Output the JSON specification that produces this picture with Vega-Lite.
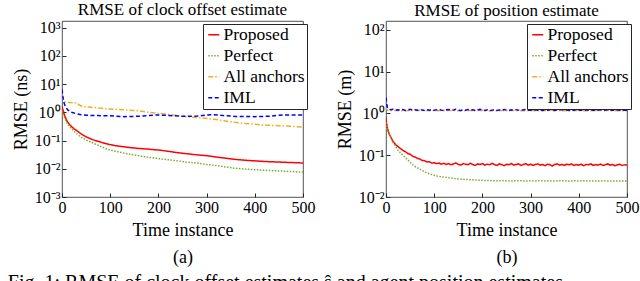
{
  "$schema": "https://vega.github.io/schema/vega-lite/v6.json",
  "background": "white",
  "padding": {"left": 7, "top": 0, "right": 0, "bottom": 0},
  "config": {
    "font": "Liberation Serif, Times New Roman, serif",
    "view": {"stroke": "#262626", "strokeWidth": 0.8},
    "axis": {"domain": false, "grid": false, "labelFlush": false, "labelOverlap": false, "labelFont": "Liberation Serif, Times New Roman, serif", "labelFontSize": 16, "labelColor": "#000", "titleFont": "Liberation Serif, Times New Roman, serif", "titleFontSize": 18, "titleFontWeight": "normal", "titleColor": "#000", "tickColor": "#262626", "tickSize": -4, "labelPadding": 6},
    "legend": {"orient": "none", "legendX": 141, "legendY": 3, "title": null, "strokeColor": "#262626", "fillColor": "white", "padding": 2, "labelFont": "Liberation Serif, Times New Roman, serif", "labelFontSize": 17.5, "labelColor": "#000", "symbolType": "stroke", "symbolSize": 121, "symbolStrokeWidth": 1.5, "rowPadding": 2, "labelOffset": 1, "cornerRadius": 0}
  },
  "title": {"text": "Fig. 1: RMSE of clock offset estimates ŝ and agent position estimates", "orient": "bottom", "anchor": "start", "fontSize": 20, "font": "Liberation Serif, Times New Roman, serif", "fontWeight": "normal", "color": "#000", "offset": 7, "limit": 600, "dx": -4},
  "resolve": {"scale": {"color": "independent", "strokeDash": "independent"}},
  "spacing": 19,
  "datasets": {
    "clock": [
      {"s":"Proposed","t":0,"v":1.6},{"s":"Proposed","t":2,"v":1.2},{"s":"Proposed","t":5,"v":0.8},{"s":"Proposed","t":10,"v":0.5},{"s":"Proposed","t":15,"v":0.38},{"s":"Proposed","t":20,"v":0.31},{"s":"Proposed","t":25,"v":0.26},{"s":"Proposed","t":31,"v":0.22},{"s":"Proposed","t":40,"v":0.17},{"s":"Proposed","t":52,"v":0.13},{"s":"Proposed","t":65,"v":0.105},{"s":"Proposed","t":80,"v":0.088},{"s":"Proposed","t":93,"v":0.076},{"s":"Proposed","t":110,"v":0.066},{"s":"Proposed","t":135,"v":0.058},{"s":"Proposed","t":155,"v":0.053},{"s":"Proposed","t":176,"v":0.05},{"s":"Proposed","t":200,"v":0.046},{"s":"Proposed","t":218,"v":0.042},{"s":"Proposed","t":240,"v":0.037},{"s":"Proposed","t":259,"v":0.034},{"s":"Proposed","t":280,"v":0.031},{"s":"Proposed","t":301,"v":0.029},{"s":"Proposed","t":320,"v":0.026},{"s":"Proposed","t":353,"v":0.022},{"s":"Proposed","t":380,"v":0.02},{"s":"Proposed","t":422,"v":0.018},{"s":"Proposed","t":460,"v":0.017},{"s":"Proposed","t":500,"v":0.016},
      {"s":"Perfect","t":0,"v":1.1},{"s":"Perfect","t":2,"v":0.85},{"s":"Perfect","t":5,"v":0.65},{"s":"Perfect","t":10,"v":0.44},{"s":"Perfect","t":15,"v":0.32},{"s":"Perfect","t":20,"v":0.26},{"s":"Perfect","t":25,"v":0.21},{"s":"Perfect","t":31,"v":0.17},{"s":"Perfect","t":40,"v":0.13},{"s":"Perfect","t":52,"v":0.1},{"s":"Perfect","t":65,"v":0.08},{"s":"Perfect","t":80,"v":0.062},{"s":"Perfect","t":93,"v":0.05},{"s":"Perfect","t":110,"v":0.042},{"s":"Perfect","t":135,"v":0.034},{"s":"Perfect","t":155,"v":0.03},{"s":"Perfect","t":176,"v":0.026},{"s":"Perfect","t":200,"v":0.023},{"s":"Perfect","t":218,"v":0.021},{"s":"Perfect","t":240,"v":0.019},{"s":"Perfect","t":259,"v":0.017},{"s":"Perfect","t":280,"v":0.016},{"s":"Perfect","t":301,"v":0.014},{"s":"Perfect","t":320,"v":0.013},{"s":"Perfect","t":353,"v":0.0107},{"s":"Perfect","t":380,"v":0.0097},{"s":"Perfect","t":422,"v":0.0088},{"s":"Perfect","t":460,"v":0.0082},{"s":"Perfect","t":500,"v":0.0076},
      {"s":"All anchors","t":0,"v":4},{"s":"All anchors","t":2,"v":3},{"s":"All anchors","t":4,"v":2.4},{"s":"All anchors","t":8,"v":2.25},{"s":"All anchors","t":15,"v":2.2},{"s":"All anchors","t":25,"v":2.15},{"s":"All anchors","t":31,"v":2.1},{"s":"All anchors","t":36,"v":1.8},{"s":"All anchors","t":42,"v":1.6},{"s":"All anchors","t":60,"v":1.5},{"s":"All anchors","t":80,"v":1.4},{"s":"All anchors","t":93,"v":1.3},{"s":"All anchors","t":120,"v":1.25},{"s":"All anchors","t":156,"v":1.14},{"s":"All anchors","t":180,"v":1.0},{"s":"All anchors","t":197,"v":0.92},{"s":"All anchors","t":220,"v":0.85},{"s":"All anchors","t":249,"v":0.72},{"s":"All anchors","t":297,"v":0.61},{"s":"All anchors","t":320,"v":0.55},{"s":"All anchors","t":353,"v":0.45},{"s":"All anchors","t":380,"v":0.4},{"s":"All anchors","t":422,"v":0.35},{"s":"All anchors","t":460,"v":0.33},{"s":"All anchors","t":500,"v":0.3},
      {"s":"IML","t":0,"v":6.5},{"s":"IML","t":2,"v":3.5},{"s":"IML","t":4,"v":2.2},{"s":"IML","t":7,"v":1.6},{"s":"IML","t":12,"v":1.2},{"s":"IML","t":20,"v":1.0},{"s":"IML","t":30,"v":0.88},{"s":"IML","t":40,"v":0.82},{"s":"IML","t":52,"v":0.78},{"s":"IML","t":75,"v":0.76},{"s":"IML","t":100,"v":0.75},{"s":"IML","t":130,"v":0.7},{"s":"IML","t":160,"v":0.72},{"s":"IML","t":180,"v":0.76},{"s":"IML","t":197,"v":0.8},{"s":"IML","t":220,"v":0.77},{"s":"IML","t":250,"v":0.72},{"s":"IML","t":280,"v":0.73},{"s":"IML","t":300,"v":0.8},{"s":"IML","t":315,"v":0.82},{"s":"IML","t":335,"v":0.76},{"s":"IML","t":360,"v":0.71},{"s":"IML","t":400,"v":0.7},{"s":"IML","t":430,"v":0.72},{"s":"IML","t":450,"v":0.79},{"s":"IML","t":500,"v":0.8}
    ],
    "pos": [
      {"s":"Proposed","t":0,"v":0.8},{"s":"Proposed","t":1,"v":0.6},{"s":"Proposed","t":2,"v":0.5},{"s":"Proposed","t":4,"v":0.4},{"s":"Proposed","t":6,"v":0.34},{"s":"Proposed","t":8,"v":0.3},{"s":"Proposed","t":10,"v":0.27},{"s":"Proposed","t":15,"v":0.21},{"s":"Proposed","t":20,"v":0.18},{"s":"Proposed","t":25,"v":0.16},{"s":"Proposed","t":30,"v":0.145},{"s":"Proposed","t":35,"v":0.13},{"s":"Proposed","t":40,"v":0.122},{"s":"Proposed","t":45,"v":0.11},{"s":"Proposed","t":50,"v":0.106},{"s":"Proposed","t":55,"v":0.095},{"s":"Proposed","t":60,"v":0.091},{"s":"Proposed","t":65,"v":0.084},{"s":"Proposed","t":70,"v":0.081},{"s":"Proposed","t":75,"v":0.075},{"s":"Proposed","t":80,"v":0.074},{"s":"Proposed","t":85,"v":0.069},{"s":"Proposed","t":90,"v":0.07},{"s":"Proposed","t":95,"v":0.065},
      {"s":"Proposed","t":100,"v":0.066},{"s":"Proposed","t":105,"v":0.063},{"s":"Proposed","t":110,"v":0.065},{"s":"Proposed","t":115,"v":0.061},{"s":"Proposed","t":120,"v":0.064},{"s":"Proposed","t":125,"v":0.06},{"s":"Proposed","t":130,"v":0.063},{"s":"Proposed","t":135,"v":0.059},{"s":"Proposed","t":140,"v":0.062},{"s":"Proposed","t":145,"v":0.065},{"s":"Proposed","t":150,"v":0.06},{"s":"Proposed","t":155,"v":0.058},{"s":"Proposed","t":160,"v":0.063},{"s":"Proposed","t":165,"v":0.061},{"s":"Proposed","t":170,"v":0.059},{"s":"Proposed","t":175,"v":0.064},{"s":"Proposed","t":180,"v":0.06},{"s":"Proposed","t":185,"v":0.057},{"s":"Proposed","t":190,"v":0.062},{"s":"Proposed","t":195,"v":0.06},{"s":"Proposed","t":200,"v":0.063},{"s":"Proposed","t":205,"v":0.058},{"s":"Proposed","t":210,"v":0.061},{"s":"Proposed","t":215,"v":0.059},{"s":"Proposed","t":220,"v":0.064},{"s":"Proposed","t":225,"v":0.06},{"s":"Proposed","t":230,"v":0.057},{"s":"Proposed","t":235,"v":0.062},{"s":"Proposed","t":240,"v":0.06},{"s":"Proposed","t":245,"v":0.056},{"s":"Proposed","t":250,"v":0.061},{"s":"Proposed","t":255,"v":0.059},{"s":"Proposed","t":260,"v":0.063},{"s":"Proposed","t":265,"v":0.058},{"s":"Proposed","t":270,"v":0.06},{"s":"Proposed","t":275,"v":0.062},{"s":"Proposed","t":280,"v":0.057},{"s":"Proposed","t":285,"v":0.06},{"s":"Proposed","t":290,"v":0.063},{"s":"Proposed","t":295,"v":0.058},{"s":"Proposed","t":300,"v":0.061},{"s":"Proposed","t":305,"v":0.057},{"s":"Proposed","t":310,"v":0.06},{"s":"Proposed","t":315,"v":0.062},{"s":"Proposed","t":320,"v":0.058},{"s":"Proposed","t":325,"v":0.06},{"s":"Proposed","t":330,"v":0.056},{"s":"Proposed","t":335,"v":0.061},{"s":"Proposed","t":340,"v":0.059},{"s":"Proposed","t":345,"v":0.055},{"s":"Proposed","t":350,"v":0.06},{"s":"Proposed","t":355,"v":0.062},{"s":"Proposed","t":360,"v":0.058},{"s":"Proposed","t":365,"v":0.06},{"s":"Proposed","t":370,"v":0.057},{"s":"Proposed","t":375,"v":0.061},{"s":"Proposed","t":380,"v":0.059},{"s":"Proposed","t":385,"v":0.062},{"s":"Proposed","t":390,"v":0.057},{"s":"Proposed","t":395,"v":0.06},{"s":"Proposed","t":400,"v":0.058},{"s":"Proposed","t":405,"v":0.061},{"s":"Proposed","t":410,"v":0.056},{"s":"Proposed","t":415,"v":0.06},{"s":"Proposed","t":420,"v":0.059},{"s":"Proposed","t":425,"v":0.062},{"s":"Proposed","t":430,"v":0.057},{"s":"Proposed","t":435,"v":0.06},{"s":"Proposed","t":440,"v":0.058},{"s":"Proposed","t":445,"v":0.061},{"s":"Proposed","t":450,"v":0.057},{"s":"Proposed","t":455,"v":0.059},{"s":"Proposed","t":460,"v":0.062},{"s":"Proposed","t":465,"v":0.058},{"s":"Proposed","t":470,"v":0.06},{"s":"Proposed","t":475,"v":0.056},{"s":"Proposed","t":480,"v":0.059},{"s":"Proposed","t":485,"v":0.061},{"s":"Proposed","t":490,"v":0.057},{"s":"Proposed","t":495,"v":0.059},{"s":"Proposed","t":500,"v":0.058},
      {"s":"Perfect","t":0,"v":0.62},{"s":"Perfect","t":1,"v":0.52},{"s":"Perfect","t":2,"v":0.46},{"s":"Perfect","t":4,"v":0.38},{"s":"Perfect","t":6,"v":0.33},{"s":"Perfect","t":8,"v":0.29},{"s":"Perfect","t":10,"v":0.26},{"s":"Perfect","t":15,"v":0.2},{"s":"Perfect","t":20,"v":0.16},{"s":"Perfect","t":25,"v":0.13},{"s":"Perfect","t":30,"v":0.115},{"s":"Perfect","t":35,"v":0.1},{"s":"Perfect","t":40,"v":0.088},{"s":"Perfect","t":48,"v":0.072},{"s":"Perfect","t":55,"v":0.06},{"s":"Perfect","t":62,"v":0.052},{"s":"Perfect","t":68,"v":0.048},{"s":"Perfect","t":75,"v":0.043},{"s":"Perfect","t":82,"v":0.039},{"s":"Perfect","t":90,"v":0.036},{"s":"Perfect","t":100,"v":0.033},{"s":"Perfect","t":110,"v":0.031},{"s":"Perfect","t":120,"v":0.03},{"s":"Perfect","t":131,"v":0.029},{"s":"Perfect","t":140,"v":0.028},{"s":"Perfect","t":150,"v":0.027},{"s":"Perfect","t":160,"v":0.0265},{"s":"Perfect","t":172,"v":0.026},{"s":"Perfect","t":185,"v":0.0255},{"s":"Perfect","t":200,"v":0.025},{"s":"Perfect","t":210,"v":0.0248},{"s":"Perfect","t":220,"v":0.0246},{"s":"Perfect","t":230,"v":0.0243},{"s":"Perfect","t":240,"v":0.0247},{"s":"Perfect","t":250,"v":0.0244},{"s":"Perfect","t":260,"v":0.0242},{"s":"Perfect","t":270,"v":0.0246},{"s":"Perfect","t":280,"v":0.0244},{"s":"Perfect","t":290,"v":0.0241},{"s":"Perfect","t":300,"v":0.0245},{"s":"Perfect","t":310,"v":0.0243},{"s":"Perfect","t":320,"v":0.0246},{"s":"Perfect","t":330,"v":0.0242},{"s":"Perfect","t":340,"v":0.0244},{"s":"Perfect","t":350,"v":0.0241},{"s":"Perfect","t":360,"v":0.0245},{"s":"Perfect","t":370,"v":0.0243},{"s":"Perfect","t":380,"v":0.024},{"s":"Perfect","t":390,"v":0.0244},{"s":"Perfect","t":400,"v":0.0242},{"s":"Perfect","t":410,"v":0.0245},{"s":"Perfect","t":420,"v":0.0241},{"s":"Perfect","t":430,"v":0.0243},{"s":"Perfect","t":440,"v":0.024},{"s":"Perfect","t":450,"v":0.0244},{"s":"Perfect","t":460,"v":0.0242},{"s":"Perfect","t":470,"v":0.0239},{"s":"Perfect","t":480,"v":0.0243},{"s":"Perfect","t":490,"v":0.0241},{"s":"Perfect","t":500,"v":0.024},
      {"s":"All anchors","t":0,"v":1.45},{"s":"All anchors","t":1,"v":1.3},{"s":"All anchors","t":3,"v":1.2},{"s":"All anchors","t":6,"v":1.18},{"s":"All anchors","t":20,"v":1.17},{"s":"All anchors","t":40,"v":1.16},{"s":"All anchors","t":60,"v":1.18},{"s":"All anchors","t":80,"v":1.17},{"s":"All anchors","t":100,"v":1.16},{"s":"All anchors","t":120,"v":1.18},{"s":"All anchors","t":140,"v":1.17},{"s":"All anchors","t":160,"v":1.16},{"s":"All anchors","t":180,"v":1.18},{"s":"All anchors","t":200,"v":1.17},{"s":"All anchors","t":220,"v":1.16},{"s":"All anchors","t":240,"v":1.17},{"s":"All anchors","t":260,"v":1.18},{"s":"All anchors","t":280,"v":1.16},{"s":"All anchors","t":300,"v":1.17},{"s":"All anchors","t":320,"v":1.16},{"s":"All anchors","t":340,"v":1.18},{"s":"All anchors","t":360,"v":1.17},{"s":"All anchors","t":380,"v":1.16},{"s":"All anchors","t":400,"v":1.17},{"s":"All anchors","t":420,"v":1.16},{"s":"All anchors","t":440,"v":1.18},{"s":"All anchors","t":460,"v":1.17},{"s":"All anchors","t":480,"v":1.16},{"s":"All anchors","t":500,"v":1.17},
      {"s":"IML","t":0,"v":2.4},{"s":"IML","t":1,"v":1.9},{"s":"IML","t":2,"v":1.55},{"s":"IML","t":3,"v":1.38},{"s":"IML","t":5,"v":1.28},{"s":"IML","t":10,"v":1.22},{"s":"IML","t":15,"v":1.25},{"s":"IML","t":20,"v":1.19},{"s":"IML","t":25,"v":1.23},{"s":"IML","t":30,"v":1.2},{"s":"IML","t":35,"v":1.24},{"s":"IML","t":40,"v":1.18},{"s":"IML","t":45,"v":1.22},{"s":"IML","t":50,"v":1.26},{"s":"IML","t":55,"v":1.2},{"s":"IML","t":60,"v":1.23},{"s":"IML","t":65,"v":1.19},{"s":"IML","t":70,"v":1.25},{"s":"IML","t":75,"v":1.21},{"s":"IML","t":80,"v":1.18},{"s":"IML","t":85,"v":1.23},{"s":"IML","t":90,"v":1.2},{"s":"IML","t":95,"v":1.24},{"s":"IML","t":100,"v":1.19},{"s":"IML","t":105,"v":1.22},{"s":"IML","t":110,"v":1.26},{"s":"IML","t":115,"v":1.2},{"s":"IML","t":120,"v":1.17},{"s":"IML","t":125,"v":1.22},{"s":"IML","t":130,"v":1.24},{"s":"IML","t":135,"v":1.19},{"s":"IML","t":140,"v":1.21},{"s":"IML","t":145,"v":1.25},{"s":"IML","t":150,"v":1.2},{"s":"IML","t":155,"v":1.18},{"s":"IML","t":160,"v":1.23},{"s":"IML","t":165,"v":1.2},{"s":"IML","t":170,"v":1.24},{"s":"IML","t":175,"v":1.19},{"s":"IML","t":180,"v":1.22},{"s":"IML","t":185,"v":1.17},{"s":"IML","t":190,"v":1.21},{"s":"IML","t":195,"v":1.25},{"s":"IML","t":200,"v":1.2},{"s":"IML","t":205,"v":1.18},{"s":"IML","t":210,"v":1.22},{"s":"IML","t":215,"v":1.16},{"s":"IML","t":220,"v":1.2},{"s":"IML","t":225,"v":1.23},{"s":"IML","t":230,"v":1.18},{"s":"IML","t":235,"v":1.21},{"s":"IML","t":240,"v":1.19},{"s":"IML","t":245,"v":1.24},{"s":"IML","t":250,"v":1.2},{"s":"IML","t":255,"v":1.17},{"s":"IML","t":260,"v":1.22},{"s":"IML","t":265,"v":1.19},{"s":"IML","t":270,"v":1.23},{"s":"IML","t":275,"v":1.2},{"s":"IML","t":280,"v":1.18},{"s":"IML","t":285,"v":1.22},{"s":"IML","t":290,"v":1.25},{"s":"IML","t":295,"v":1.19},{"s":"IML","t":300,"v":1.21},{"s":"IML","t":305,"v":1.17},{"s":"IML","t":310,"v":1.22},{"s":"IML","t":315,"v":1.2},{"s":"IML","t":320,"v":1.24},{"s":"IML","t":325,"v":1.18},{"s":"IML","t":330,"v":1.21},{"s":"IML","t":335,"v":1.19},{"s":"IML","t":340,"v":1.23},{"s":"IML","t":345,"v":1.2},{"s":"IML","t":350,"v":1.17},{"s":"IML","t":355,"v":1.22},{"s":"IML","t":360,"v":1.2},{"s":"IML","t":365,"v":1.24},{"s":"IML","t":370,"v":1.19},{"s":"IML","t":375,"v":1.21},{"s":"IML","t":380,"v":1.18},{"s":"IML","t":385,"v":1.22},{"s":"IML","t":390,"v":1.2},{"s":"IML","t":395,"v":1.25},{"s":"IML","t":400,"v":1.19},{"s":"IML","t":405,"v":1.21},{"s":"IML","t":410,"v":1.17},{"s":"IML","t":415,"v":1.22},{"s":"IML","t":420,"v":1.2},{"s":"IML","t":425,"v":1.23},{"s":"IML","t":430,"v":1.18},{"s":"IML","t":435,"v":1.21},{"s":"IML","t":440,"v":1.19},{"s":"IML","t":445,"v":1.22},{"s":"IML","t":450,"v":1.17},{"s":"IML","t":455,"v":1.2},{"s":"IML","t":460,"v":1.23},{"s":"IML","t":465,"v":1.19},{"s":"IML","t":470,"v":1.21},{"s":"IML","t":475,"v":1.18},{"s":"IML","t":480,"v":1.22},{"s":"IML","t":485,"v":1.19},{"s":"IML","t":490,"v":1.16},{"s":"IML","t":495,"v":1.2},{"s":"IML","t":500,"v":1.18}
    ]
  },
  "hconcat": [
    {
      "title": {"text": "RMSE of clock offset estimate", "fontSize": 17, "fontWeight": "normal", "font": "Liberation Serif, Times New Roman, serif", "color": "#000", "offset": 1},
      "width": 241, "height": 176,
      "data": {"name": "clock"},
      "mark": {"type": "line", "strokeWidth": 1.5, "clip": true},
      "encoding": {
        "x": {"field": "t", "type": "quantitative", "scale": {"domain": [0, 500], "nice": false}, "axis": {"values": [0, 100, 200, 300, 400, 500], "title": ["Time instance", "(a)"], "titleLineHeight": 27, "titlePadding": 6}},
        "y": {"field": "v", "type": "quantitative", "scale": {"type": "log", "domain": [0.001, 1700], "nice": false}, "axis": {"values": [0.001, 0.01, 0.1, 1, 10, 100, 1000], "labelExpr": "datum.value < 0.005 ? '10⁻³' : datum.value < 0.05 ? '10⁻²' : datum.value < 0.5 ? '10⁻¹' : datum.value < 5 ? '10⁰' : datum.value < 50 ? '10¹' : datum.value < 500 ? '10²' : '10³'", "title": "RMSE (ns)", "titlePadding": 4}},
        "color": {"field": "s", "type": "nominal", "scale": {"domain": ["Proposed", "Perfect", "All anchors", "IML"], "range": ["#ff0000", "#77ac30", "#edb120", "#0000ff"]}, "legend": {"orient": "none", "legendX": 141, "legendY": 3}},
        "strokeDash": {"field": "s", "type": "nominal", "scale": {"domain": ["Proposed", "Perfect", "All anchors", "IML"], "range": [[1, 0], [1.5, 1.5], [5, 2, 1.5, 2], [4, 2.5]]}, "legend": {"orient": "none", "legendX": 141, "legendY": 3}}
      }
    },
    {
      "title": {"text": "RMSE of position estimate", "fontSize": 17, "fontWeight": "normal", "font": "Liberation Serif, Times New Roman, serif", "color": "#000", "offset": 1},
      "width": 241, "height": 176,
      "data": {"name": "pos"},
      "mark": {"type": "line", "strokeWidth": 1.5, "clip": true},
      "encoding": {
        "x": {"field": "t", "type": "quantitative", "scale": {"domain": [0, 500], "nice": false}, "axis": {"values": [0, 100, 200, 300, 400, 500], "title": ["Time instance", "(b)"], "titleLineHeight": 27, "titlePadding": 6}},
        "y": {"field": "v", "type": "quantitative", "scale": {"type": "log", "domain": [0.01, 163], "nice": false}, "axis": {"values": [0.01, 0.1, 1, 10, 100], "labelExpr": "datum.value < 0.05 ? '10⁻²' : datum.value < 0.5 ? '10⁻¹' : datum.value < 5 ? '10⁰' : datum.value < 50 ? '10¹' : '10²'", "title": "RMSE (m)", "titlePadding": 4}},
        "color": {"field": "s", "type": "nominal", "scale": {"domain": ["Proposed", "Perfect", "All anchors", "IML"], "range": ["#ff0000", "#77ac30", "#edb120", "#0000ff"]}, "legend": {"orient": "none", "legendX": 141, "legendY": 3}},
        "strokeDash": {"field": "s", "type": "nominal", "scale": {"domain": ["Proposed", "Perfect", "All anchors", "IML"], "range": [[1, 0], [1.5, 1.5], [5, 2, 1.5, 2], [4, 2.5]]}, "legend": {"orient": "none", "legendX": 141, "legendY": 3}}
      }
    }
  ]
}
